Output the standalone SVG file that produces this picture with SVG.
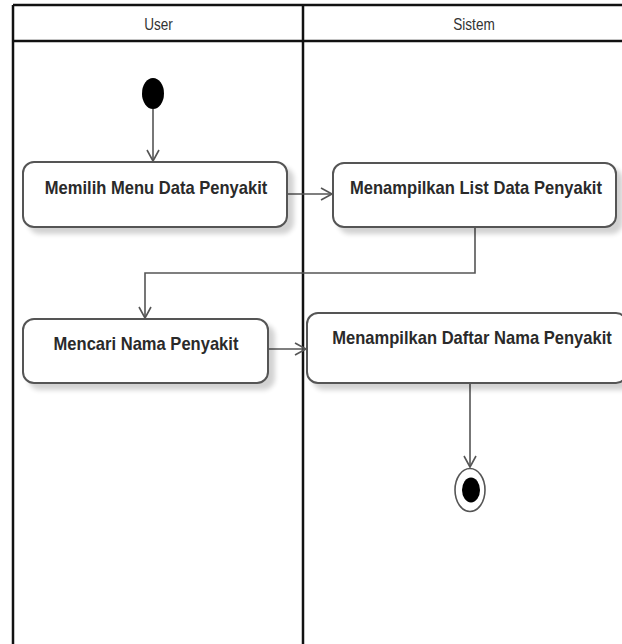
<svg xmlns="http://www.w3.org/2000/svg" width="622" height="644" viewBox="0 0 622 644">
  <style>
    .lane { stroke: #111; stroke-width: 2.5; fill: none; }
    .head { font-family: "Liberation Sans Narrow", "Liberation Sans", Arial, sans-serif; font-size: 16px; fill: #333; text-anchor: middle; }
    .act { fill: #fff; stroke: #555; stroke-width: 2; }
    .label { font-family: "Liberation Sans Narrow", "Liberation Sans", Arial, sans-serif; font-size: 18px; font-weight: bold; fill: #2a2a2a; text-anchor: middle; }
    .flow { stroke: #555; stroke-width: 1.6; fill: none; }
  </style>
  <defs>
    <filter id="shadow" x="-10%" y="-20%" width="130%" height="160%">
      <feGaussianBlur in="SourceAlpha" stdDeviation="2.5"/>
      <feOffset dx="6" dy="6" result="b"/>
      <feComponentTransfer><feFuncA type="linear" slope="0.18"/></feComponentTransfer>
      <feMerge><feMergeNode/><feMergeNode in="SourceGraphic"/></feMerge>
    </filter>
    <marker id="open" markerWidth="14" markerHeight="14" refX="12" refY="7" orient="auto" markerUnits="userSpaceOnUse">
      <path d="M1,1 L12,7 L1,13" fill="none" stroke="#555" stroke-width="1.6"/>
    </marker>
  </defs>

  <rect width="622" height="644" fill="#fff"/>

  <!-- swimlanes -->
  <g id="lanes">
    <path class="lane" d="M13,5 H622 M13,41 H622 M13,5 V644 M303,5 V644"/>
    <text class="head" transform="translate(158.5,30) scale(0.85,1)">User</text>
    <text class="head" transform="translate(474,30) scale(0.85,1)">Sistem</text>
  </g>

  <!-- connectors -->
  <g id="connectors">
    <path class="flow" d="M153,109 V161" marker-end="url(#open)"/>
    <path class="flow" d="M287,194 H332" marker-end="url(#open)"/>
    <path class="flow" d="M475,227 V273 H145 V318" marker-end="url(#open)"/>
    <path class="flow" d="M268,349 H306" marker-end="url(#open)"/>
    <path class="flow" d="M470,383 V467" marker-end="url(#open)"/>
  </g>

  <g id="start">
    <ellipse cx="153" cy="93.5" rx="11" ry="15.5" fill="#000"/>
  </g>

  <g id="act-memilih-menu">
    <rect class="act" x="23" y="162" width="264" height="65" rx="11" filter="url(#shadow)"/>
    <text class="label" transform="translate(156,194) scale(0.92,1)">Memilih Menu Data Penyakit</text>
  </g>

  <g id="act-list-data">
    <rect class="act" x="333" y="163" width="283" height="64" rx="11" filter="url(#shadow)"/>
    <text class="label" transform="translate(476,194) scale(0.92,1)">Menampilkan List Data Penyakit</text>
  </g>

  <g id="act-mencari">
    <rect class="act" x="23" y="319" width="245" height="64" rx="11" filter="url(#shadow)"/>
    <text class="label" transform="translate(146,350) scale(0.92,1)">Mencari Nama Penyakit</text>
  </g>

  <g id="act-daftar-nama">
    <rect class="act" x="307" y="313" width="320" height="70" rx="11" filter="url(#shadow)"/>
    <text class="label" transform="translate(472,344) scale(0.92,1)">Menampilkan Daftar Nama Penyakit</text>
  </g>

  <g id="end">
    <ellipse cx="470" cy="490" rx="15" ry="21.5" fill="#fff" stroke="#555" stroke-width="1.6"/>
    <ellipse cx="471" cy="490" rx="9" ry="12.5" fill="#000"/>
  </g>
</svg>
